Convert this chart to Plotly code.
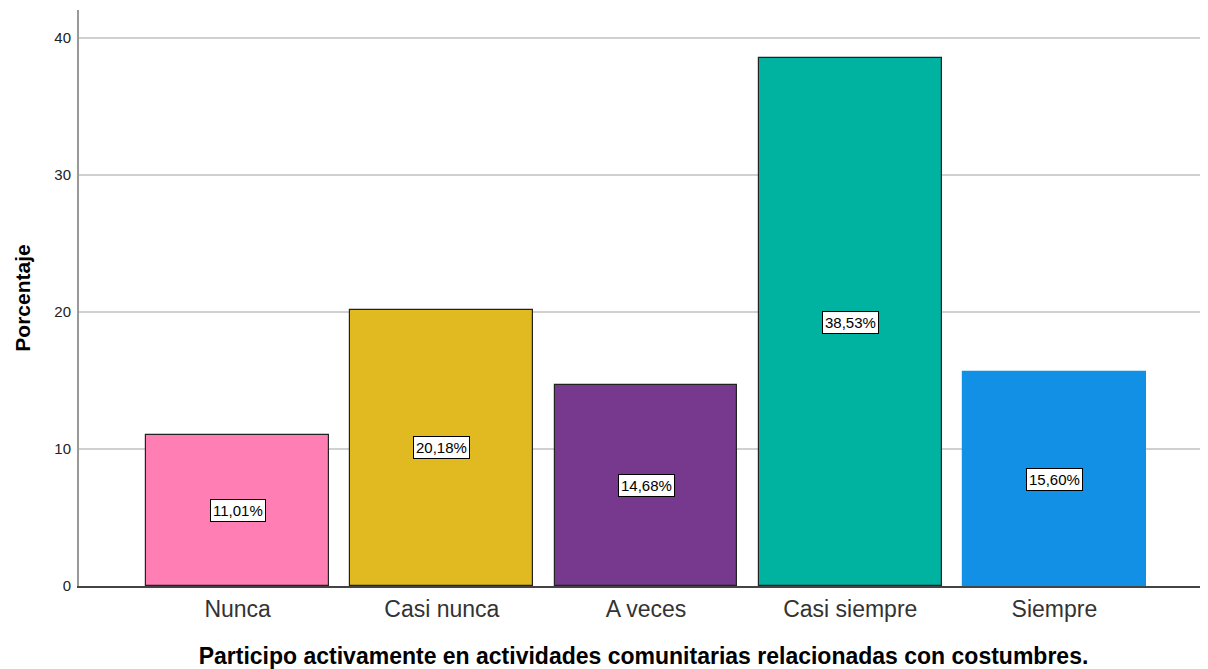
import plotly.graph_objects as go

categorias = ['Nunca', 'Casi nunca', 'A veces', 'Casi siempre', 'Siempre']
porcentajes = [11.01, 20.18, 14.68, 38.53, 15.60]
colores = ['#FF7EB3', '#E1BA22', '#76398D', '#00B2A0', '#1190E5']
bordes = ['#222222', '#222222', '#222222', '#222222', '#1190E5']

FUENTE = 'Liberation Sans, Arial'

fig = go.Figure()
fig.add_trace(go.Bar(
    x=list(range(len(categorias))),
    y=porcentajes,
    width=0.895,
    marker=dict(color=colores, line=dict(color=bordes, width=1.2)),
    hoverinfo='skip',
))

# etiquetas con recuadro en la mitad de cada barra
for i, v in enumerate(porcentajes):
    fig.add_annotation(
        x=i, y=v / 2,
        text=f'{v:.2f}%'.replace('.', ','),
        showarrow=False,
        font=dict(family=FUENTE, size=15, color='black'),
        bgcolor='white', bordercolor='black', borderwidth=1, borderpad=2,
    )

fig.update_xaxes(
    tickvals=list(range(len(categorias))), ticktext=categorias,
    range=[-0.777, 4.752],
    tickfont=dict(family=FUENTE, size=23, color='#333333'),
    showgrid=False, zeroline=False,
    showline=True, linecolor='#444444', linewidth=1.5,
    ticks='outside', ticklen=2, tickcolor='rgba(0,0,0,0)',
    automargin=False,
    title=dict(text='<b>Participo activamente en actividades comunitarias relacionadas con costumbres.</b>',
               font=dict(family=FUENTE, size=23, color='black'), standoff=32),
)
fig.update_yaxes(
    range=[0, 42.05],
    tickvals=[0, 10, 20, 30, 40],
    tickfont=dict(family=FUENTE, size=15, color='#222222'),
    showgrid=True, gridcolor='#D0D0D0', gridwidth=2,
    zeroline=False,
    showline=True, linecolor='#999999', linewidth=2,
    ticks='outside', ticklen=3, tickcolor='rgba(0,0,0,0)',
    automargin=False,
    title=dict(text='<b>Porcentaje</b>',
               font=dict(family=FUENTE, size=21, color='black'), standoff=18),
)

# la página añade 8 px de margen; el lienzo se ajusta para caber en la ventana
fig.update_layout(
    width=1200, height=661,
    margin=dict(l=71, r=0, t=2, b=83),
    paper_bgcolor='white', plot_bgcolor='white',
    showlegend=False, bargap=0,
)

fig.write_html("out.html")
